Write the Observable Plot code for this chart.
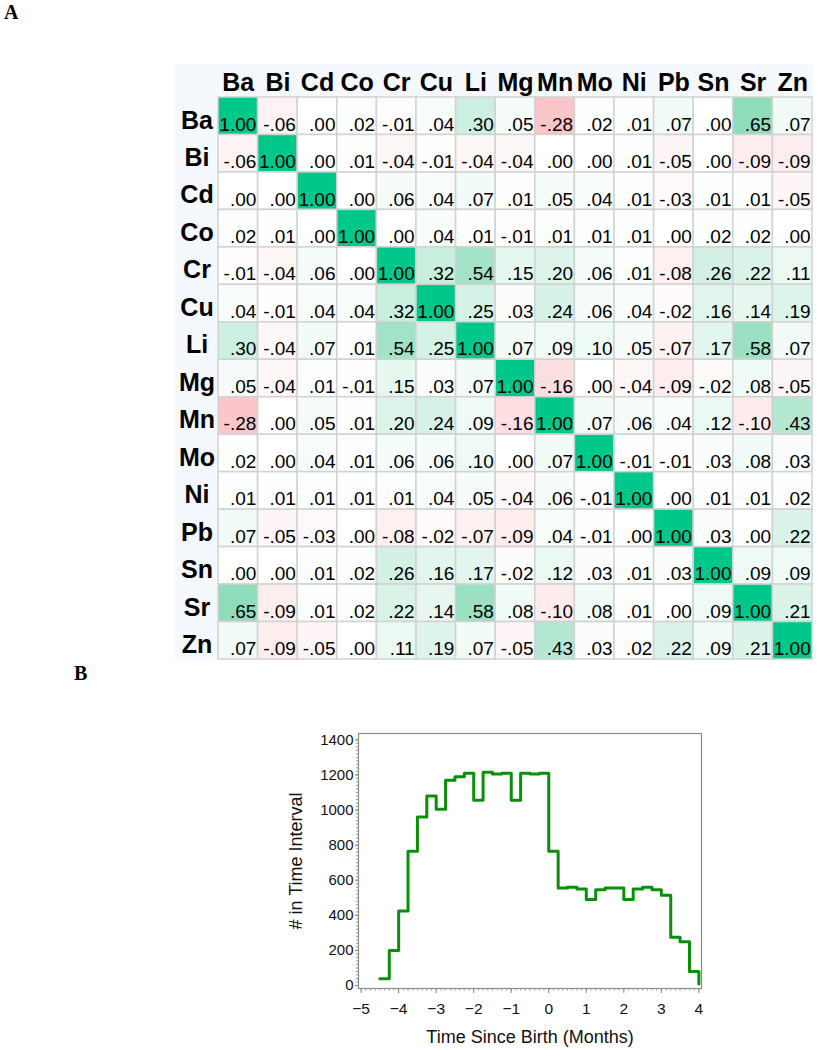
<!DOCTYPE html>
<html>
<head>
<meta charset="utf-8">
<script src="https://cdn.jsdelivr.net/npm/d3@7"></script>
<script src="https://cdn.jsdelivr.net/npm/@observablehq/plot@0.6"></script>
<style>
  html, body { margin: 0; padding: 0; background: #ffffff; }
  #page { position: relative; width: 820px; height: 1050px; overflow: hidden; }
  .panel-label { position: absolute; font-family: "Liberation Serif", "Times New Roman", serif; font-weight: bold; font-size: 20px; line-height: 1; color: #000; }
  #heat { position: absolute; left: 175px; top: 64px; }
  #steps { position: absolute; left: 280px; top: 700px; }
</style>
</head>
<body>
<div id="page">
  <div class="panel-label" style="left:4px; top:2px;">A</div>
  <div id="heat"></div>
  <div class="panel-label" style="left:74px; top:663px;">B</div>
  <div id="steps"></div>
</div>
<script>
// ---------- Panel A data: correlation matrix ----------
const elements = ["Ba","Bi","Cd","Co","Cr","Cu","Li","Mg","Mn","Mo","Ni","Pb","Sn","Sr","Zn"];
const rowBa = [1.00,-0.06,0.00,0.02,-0.01,0.04,0.30,0.05,-0.28,0.02,0.01,0.07,0.00,0.65,0.07];
const rowBi = [-0.06,1.00,0.00,0.01,-0.04,-0.01,-0.04,-0.04,0.00,0.00,0.01,-0.05,0.00,-0.09,-0.09];
const rowCd = [0.00,0.00,1.00,0.00,0.06,0.04,0.07,0.01,0.05,0.04,0.01,-0.03,0.01,0.01,-0.05];
const rowCo = [0.02,0.01,0.00,1.00,0.00,0.04,0.01,-0.01,0.01,0.01,0.01,0.00,0.02,0.02,0.00];
const rowCr = [-0.01,-0.04,0.06,0.00,1.00,0.32,0.54,0.15,0.20,0.06,0.01,-0.08,0.26,0.22,0.11];
const rowCu = [0.04,-0.01,0.04,0.04,0.32,1.00,0.25,0.03,0.24,0.06,0.04,-0.02,0.16,0.14,0.19];
const rowLi = [0.30,-0.04,0.07,0.01,0.54,0.25,1.00,0.07,0.09,0.10,0.05,-0.07,0.17,0.58,0.07];
const rowMg = [0.05,-0.04,0.01,-0.01,0.15,0.03,0.07,1.00,-0.16,0.00,-0.04,-0.09,-0.02,0.08,-0.05];
const rowMn = [-0.28,0.00,0.05,0.01,0.20,0.24,0.09,-0.16,1.00,0.07,0.06,0.04,0.12,-0.10,0.43];
const rowMo = [0.02,0.00,0.04,0.01,0.06,0.06,0.10,0.00,0.07,1.00,-0.01,-0.01,0.03,0.08,0.03];
const rowNi = [0.01,0.01,0.01,0.01,0.01,0.04,0.05,-0.04,0.06,-0.01,1.00,0.00,0.01,0.01,0.02];
const rowPb = [0.07,-0.05,-0.03,0.00,-0.08,-0.02,-0.07,-0.09,0.04,-0.01,0.00,1.00,0.03,0.00,0.22];
const rowSn = [0.00,0.00,0.01,0.02,0.26,0.16,0.17,-0.02,0.12,0.03,0.01,0.03,1.00,0.09,0.09];
const rowSr = [0.65,-0.09,0.01,0.02,0.22,0.14,0.58,0.08,-0.10,0.08,0.01,0.00,0.09,1.00,0.21];
const rowZn = [0.07,-0.09,-0.05,0.00,0.11,0.19,0.07,-0.05,0.43,0.03,0.02,0.22,0.09,0.21,1.00];
const matrixRows = [rowBa,rowBi,rowCd,rowCo,rowCr,rowCu,rowLi,rowMg,rowMn,rowMo,rowNi,rowPb,rowSn,rowSr,rowZn];

// ---------- Panel B data: counts per 0.25-month interval ----------
const binStart = [-4.5,-4.25,-4,-3.75,-3.5,-3.25,-3,-2.75,-2.5,-2.25,-2,-1.75,-1.5,-1.25,-1,-0.75,-0.5,-0.25,
                  0,0.25,0.5,0.75,1,1.25,1.5,1.75,2,2.25,2.5,2.75,3,3.25,3.5,3.75,4];
const counts = [38,200,425,765,960,1080,1005,1170,1190,1210,1055,1215,1205,1210,1055,1210,1205,1210,
                765,555,560,550,490,545,555,555,490,550,560,545,515,275,250,80,8];
const xTicks = [-5,-4,-3,-2,-1,0,1,2,3,4];
const yTicks = [0,200,400,600,800,1000,1200,1400];

// ---------- Panel A ----------
const cells = [];
matrixRows.forEach((row, i) => row.forEach((v, j) => cells.push({row: elements[i], col: elements[j], value: v})));
const fmt = v => (v < 0 ? "-" : "") + Math.abs(v).toFixed(2).replace(/^0\./, ".");

const heat = Plot.plot({
  width: 638,
  height: 596,
  marginLeft: 43,
  marginTop: 33,
  marginRight: 1,
  marginBottom: 1,
  style: {background: "#f5f8fc", fontFamily: "'Liberation Sans', Arial, sans-serif", color: "#000", overflow: "visible"},
  x: {domain: elements, padding: 0, round: false, label: null},
  y: {domain: elements, padding: 0, round: false, label: null},
  color: {type: "linear", domain: [-0.3, 0, 0.65, 1], range: ["#fbc2c6", "#ffffff", "#8fdcbb", "#00c78a"], clamp: true},
  marks: [
    Plot.cell(cells, {x: "col", y: "row", fill: "value", stroke: "#d2d2d2", strokeWidth: 1.5, inset: 0}),
    Plot.text(cells, {x: "col", y: "row", text: d => fmt(d.value), textAnchor: "end", dx: 18, dy: 8.3, fontSize: 19, fill: "#000"}),
    Plot.axisX({anchor: "top", tickSize: 0, tickPadding: 7, fontSize: 25, fontWeight: "bold", label: null}),
    Plot.axisY({anchor: "left", tickSize: 0, tickPadding: 21.5, textAnchor: "middle", dy: 4.3, fontSize: 25, fontWeight: "bold", label: null})
  ]
});
document.getElementById("heat").appendChild(heat);

// ---------- Panel B ----------
const stepData = binStart.map((x, i) => ({t: x, n: counts[i]}));
const yMinor = d3.range(0, 1401, 20);
const xMinor = d3.range(-5, 4.001, 0.125);

const steps = Plot.plot({
  width: 440,
  height: 350,
  marginLeft: 78,
  marginTop: 33,
  marginRight: 19,
  marginBottom: 62,
  style: {background: "white", fontFamily: "'Liberation Sans', Arial, sans-serif", fontSize: "15px", color: "#111", overflow: "visible"},
  x: {domain: [-5.07, 4.07], label: null},
  y: {domain: [-17, 1436], label: null},
  marks: [
    Plot.frame({stroke: "#8a8a8a", strokeWidth: 1.2}),
    Plot.axisY({ticks: yMinor, tickSize: 2, tickFormat: () => "", stroke: "#999", label: null}),
    Plot.axisY({ticks: yTicks, tickSize: 3, tickPadding: 2, tickFormat: d => String(d), stroke: "#888", fontSize: 15, label: null}),
    Plot.axisX({ticks: xMinor, tickSize: 2.5, tickFormat: () => "", stroke: "#999", label: null}),
    Plot.axisX({ticks: xTicks, tickSize: 5, tickPadding: 9, stroke: "#888", fontSize: 15.5, label: null}),
    Plot.text(["Time Since Birth (Months)"], {frameAnchor: "bottom", lineAnchor: "bottom", textAnchor: "middle", dy: 54, fontSize: 18, fill: "#111"}),
    Plot.text(["# in Time Interval"], {frameAnchor: "left", textAnchor: "middle", lineAnchor: "middle", rotate: -90, dx: -62, fontSize: 18, fill: "#111"}),
    Plot.line(stepData, {x: "t", y: "n", curve: "step-after", stroke: "#0a8f0a", strokeWidth: 3})
  ]
});
document.getElementById("steps").appendChild(steps);
</script>
</body>
</html>
